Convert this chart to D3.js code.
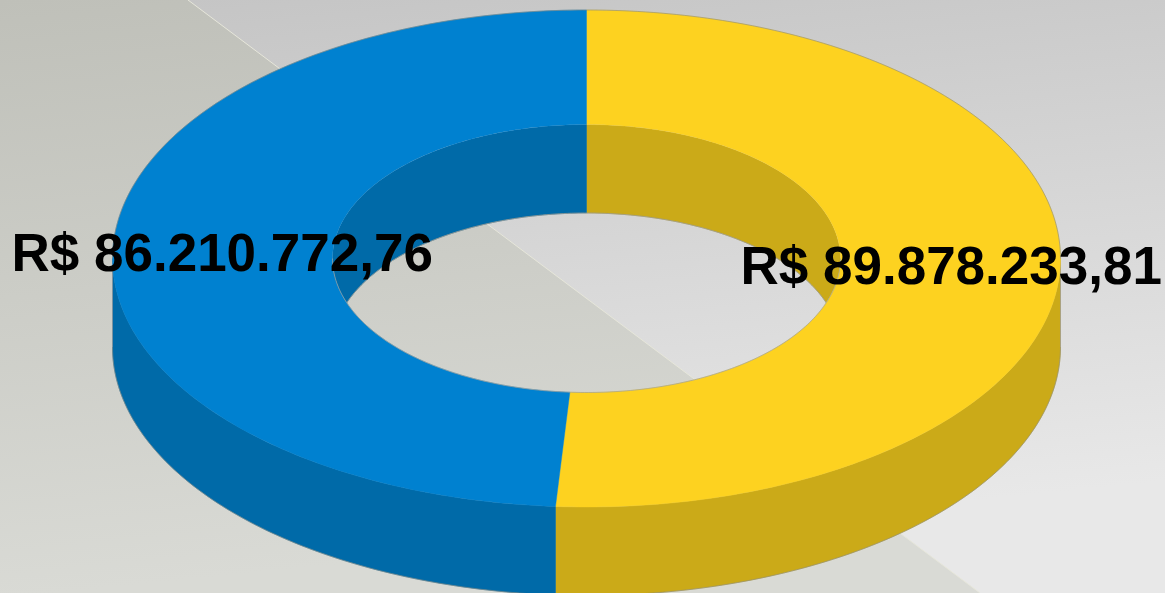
<!DOCTYPE html>
<html>
<head>
<meta charset="utf-8">
<script src="https://cdn.jsdelivr.net/npm/d3@7/dist/d3.min.js"></script>
<style>html,body{margin:0;padding:0;overflow:hidden;background:#ccc}svg{display:block}</style>
</head>
<body>
<svg id="c" width="1165" height="593"></svg>
<script>
const categories = ["A", "B"];
const seriesValues = [89878233.81, 86210772.76];
const sliceLabels = ["R$ 89.878.233,81", "R$ 86.210.772,76"];
const sliceColors = ["#fdd220", "#0081d0"];
const sideColors = ["#cbaa18", "#006aa8"];
const labelAnchors = [[740.5, 283.5], [11.5, 270.5]];

const W = 1165, H = 593;
const cx = 586.5, cy = 258.5, rx = 474, ry = 248.5, holeRx = 254, holeRy = 134, depth = 88.5;

const svg = d3.select("#c");
const defs = svg.append("defs");

function grad(id, stops, x2, y2) {
  const g = defs.append("linearGradient").attr("id", id).attr("gradientUnits", "userSpaceOnUse")
    .attr("x1", 0).attr("y1", 0).attr("x2", x2).attr("y2", y2);
  stops.forEach(s => g.append("stop").attr("offset", s[0]).attr("stop-color", s[1]));
}
grad("bgR", [[0, "#c4c4c4"], [1, "#e8e8e8"]], 60, 593);
grad("bgL", [[0, "#bfc0b9"], [1, "#d9dad5"]], 60, 593);

svg.append("rect").attr("width", W).attr("height", H).attr("fill", "url(#bgR)");
svg.append("path").attr("d", d3.line()([[0, 0], [188, 0], [980, 593], [0, 593]]) + "Z").attr("fill", "url(#bgL)");
svg.append("path").attr("d", d3.line()([[188, 0], [980, 593]])).attr("stroke", "#e6e6da").attr("stroke-width", 1).attr("fill", "none");

const pie = d3.pie().sort(null).value(d => d);
const arcs = pie(seriesValues);

// angle 0 at the top, clockwise, flattened on the ellipse
const pt = (a, rX, rY, dy = 0) => [cx + rX * Math.sin(a), cy - rY * Math.cos(a) + dy];
function curve(a0, a1, rX, rY, dy = 0) {
  const n = Math.max(2, Math.ceil(Math.abs(a1 - a0) * 60)), out = [];
  for (let i = 0; i <= n; i++) out.push(pt(a0 + (a1 - a0) * i / n, rX, rY, dy));
  return out;
}
const line = d3.line();
const PI = Math.PI;

// Outer wall: the front half of the ring
arcs.forEach((d, i) => {
  const a0 = Math.max(d.startAngle, PI / 2), a1 = Math.min(d.endAngle, 3 * PI / 2);
  if (a1 <= a0) return;
  const pts = curve(a0, a1, rx, ry).concat(curve(a1, a0, rx, ry, depth));
  svg.append("path").attr("d", line(pts) + "Z").attr("fill", sideColors[i])
    .attr("stroke", sideColors[i]).attr("stroke-width", 0.5);
});
svg.append("path").attr("d", line(curve(PI / 2, 3 * PI / 2, rx, ry, depth)))
  .attr("fill", "none").attr("stroke", "#8a8a80").attr("stroke-width", 0.6);
[PI / 2, 3 * PI / 2].forEach(a => svg.append("path")
  .attr("d", line([pt(a, rx, ry), pt(a, rx, ry, depth)]))
  .attr("stroke", "#999").attr("stroke-width", 0.7));

// Inner wall: the back half of the hole, clipped to the opening
defs.append("clipPath").attr("id", "hole").append("path")
  .attr("d", line(curve(0, 2 * PI, holeRx, holeRy)) + "Z");
const inner = svg.append("g").attr("clip-path", "url(#hole)");
arcs.forEach((d, i) => {
  const ranges = [[d.startAngle, Math.min(d.endAngle, PI / 2)], [Math.max(d.startAngle, 3 * PI / 2), d.endAngle]];
  ranges.forEach(([a0, a1]) => {
    if (a1 <= a0) return;
    const pts = curve(a0, a1, holeRx, holeRy).concat(curve(a1, a0, holeRx, holeRy, depth));
    inner.append("path").attr("d", line(pts) + "Z").attr("fill", sideColors[i])
      .attr("stroke", sideColors[i]).attr("stroke-width", 0.5);
  });
});
inner.append("path").attr("d", line(curve(-PI / 2, PI / 2, holeRx, holeRy, depth)))
  .attr("fill", "none").attr("stroke", "#9a9a92").attr("stroke-width", 0.8);

// Top faces
arcs.forEach((d, i) => {
  const pts = curve(d.startAngle, d.endAngle, rx, ry).concat(curve(d.endAngle, d.startAngle, holeRx, holeRy));
  svg.append("path").attr("class", "slice").attr("d", line(pts) + "Z").attr("fill", sliceColors[i])
    .attr("stroke", sliceColors[i]).attr("stroke-width", 0.4);
});
svg.append("path").attr("d", line(curve(-PI / 2, PI / 2, rx, ry)))
  .attr("fill", "none").attr("stroke", "#8a8a80").attr("stroke-width", 0.6);
svg.append("path").attr("d", line(curve(PI / 2, 3 * PI / 2, holeRx, holeRy)))
  .attr("fill", "none").attr("stroke", "#a0a09a").attr("stroke-width", 0.7);

// Labels
svg.selectAll("text.lbl").data(sliceLabels).join("text").attr("class", "lbl")
  .attr("x", (d, i) => labelAnchors[i][0]).attr("y", (d, i) => labelAnchors[i][1])
  .attr("font-family", "'Liberation Sans', Arial, sans-serif")
  .attr("font-weight", "bold").attr("font-size", 53).attr("fill", "#000")
  .text(d => d);
</script>
</body>
</html>
